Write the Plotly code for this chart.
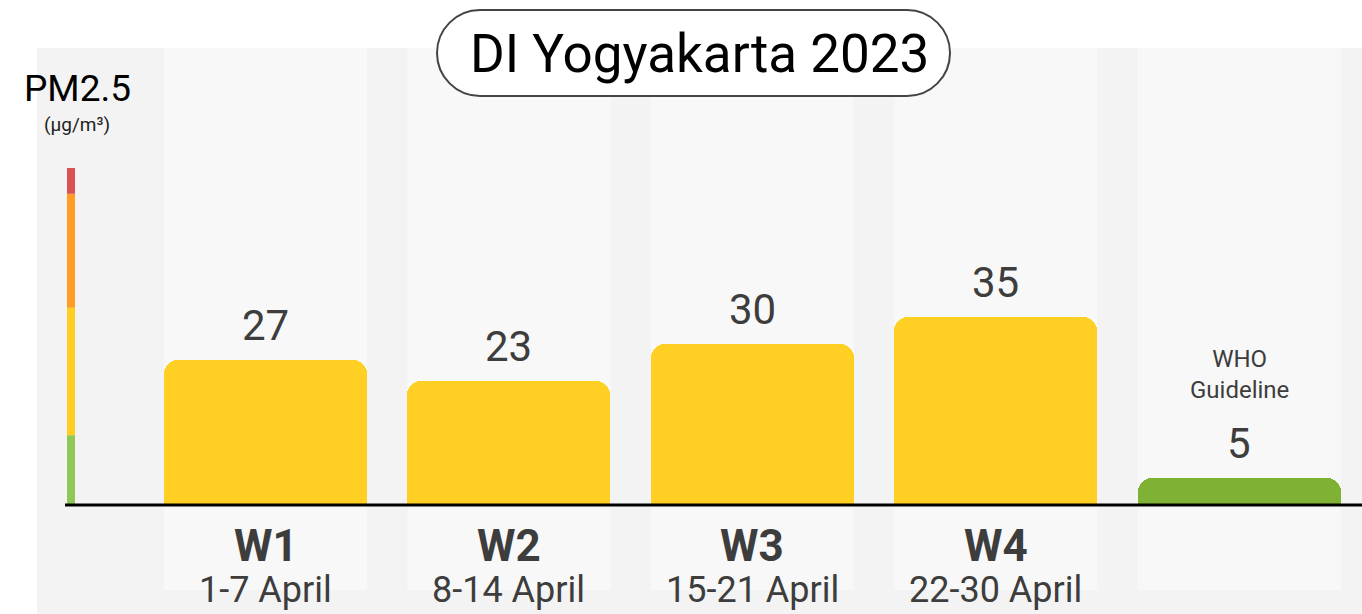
import plotly.graph_objects as go

# ---- data ----
weeks = ["W1", "W2", "W3", "W4"]
date_ranges = ["1-7 April", "8-14 April", "15-21 April", "22-30 April"]
pm25_values = [27, 23, 30, 35]
who_label = "WHO<br>Guideline"
who_value = 5
title_text = "DI Yogyakarta 2023"
# PM2.5 colour-scale band limits (µg/m³), bottom to top
scale_limits = [0, 13, 36.7, 57.9, 62.7]
scale_colors = ["#8FC855", "#FFCE21", "#FF9E22", "#D95152"]

# ---- layout geometry ----
W, H = 1362, 614
L, T = 37, 48
k = 5.375           # px per unit
base_px = 505
y_min = -(H - base_px) / k
y_max = (base_px - T) / k


def px2x(px):
    return (px - L) / (W - L)


def py2y(py):
    return (H - py) / (H - T)


cats = weeks + ["WHO"]
vals = pm25_values + [who_value]
colors = ["#FFCF23"] * len(weeks) + ["#7FB135"]

fig = go.Figure()
fig.add_trace(go.Bar(
    x=list(range(len(cats))), y=vals,
    marker=dict(color=colors, line=dict(width=0), cornerradius=14),
    width=0.834, hoverinfo="skip", showlegend=False,
))

shapes = []
# column bands
for i in range(len(cats)):
    shapes.append(dict(type="rect", xref="x", yref="y",
                       x0=i - 0.417, x1=i + 0.417,
                       y0=-(590 - base_px) / k, y1=y_max,
                       fillcolor="#f8f8f8", line=dict(width=0), layer="below"))
# colour scale bar
for j, c in enumerate(scale_colors):
    shapes.append(dict(type="rect", xref="paper", yref="y",
                       x0=px2x(67), x1=px2x(75),
                       y0=scale_limits[j], y1=scale_limits[j + 1],
                       fillcolor=c, line=dict(width=0), layer="below"))
# baseline axis
shapes.append(dict(type="line", xref="paper", yref="y",
                   x0=px2x(65), x1=1, y0=0, y1=0,
                   line=dict(color="black", width=3)))

# title pill
x0p, x1p, y0p, y1p = 437, 950, 10, 96
r = (y1p - y0p) / 2
kk = 0.5523


def P(px, py):
    return f"{px2x(px):.5f},{py2y(py):.5f}"


path = (f"M {P(x0p + r, y0p)} L {P(x1p - r, y0p)} "
        f"C {P(x1p - r + kk * r, y0p)} {P(x1p, y0p + r - kk * r)} {P(x1p, y0p + r)} "
        f"C {P(x1p, y0p + r + kk * r)} {P(x1p - r + kk * r, y1p)} {P(x1p - r, y1p)} "
        f"L {P(x0p + r, y1p)} "
        f"C {P(x0p + r - kk * r, y1p)} {P(x0p, y1p - r + kk * r)} {P(x0p, y1p - r)} "
        f"C {P(x0p, y0p + r - kk * r)} {P(x0p + r - kk * r, y0p)} {P(x0p + r, y0p)} Z")
shapes.append(dict(type="path", xref="paper", yref="paper", path=path,
                   fillcolor="white", line=dict(color="#444444", width=2)))

annotations = []
FONT = "Roboto"
TXT = "#3d3d3d"
# value labels
for i, v in enumerate(vals):
    annotations.append(dict(x=i, y=v, xref="x", yref="y", text=str(v),
                            showarrow=False, xanchor="center", yanchor="bottom", yshift=8,
                            font=dict(family=FONT, size=42, color=TXT)))
# WHO guideline label
annotations.append(dict(x=len(cats) - 1, y=py2y(374), xref="x", yref="paper",
                        text=who_label, showarrow=False, xanchor="center", yanchor="middle",
                        font=dict(family=FONT, size=24, color=TXT)))
# week labels
for i, (w, d) in enumerate(zip(weeks, date_ranges)):
    annotations.append(dict(x=i, y=py2y(546), xref="x", yref="paper",
                            text=f"<b>{w}</b>", showarrow=False, xanchor="center",
                            yanchor="middle",
                            font=dict(family=FONT, size=44, color=TXT)))
    annotations.append(dict(x=i, y=py2y(590), xref="x", yref="paper",
                            text=d, showarrow=False, xanchor="center", yanchor="middle",
                            font=dict(family=FONT, size=36, color=TXT)))
# y label
annotations.append(dict(x=px2x(77), y=py2y(89), xref="paper", yref="paper",
                        text="PM2.5", showarrow=False, xanchor="center", yanchor="middle",
                        font=dict(family=FONT, size=37, color="black")))
annotations.append(dict(x=px2x(77), y=py2y(125), xref="paper", yref="paper",
                        text="(µg/m³)", showarrow=False, xanchor="center", yanchor="middle",
                        font=dict(family=FONT, size=19, color="#222222")))
# title
annotations.append(dict(x=px2x(699), y=py2y(54), xref="paper", yref="paper",
                        text=title_text, showarrow=False, xanchor="center", yanchor="middle",
                        font=dict(family=FONT, size=53, color="black")))

fig.update_layout(
    width=W, height=H,
    margin=dict(l=L, r=0, t=T, b=0, pad=0),
    paper_bgcolor="white", plot_bgcolor="#f3f3f3",
    xaxis=dict(range=[-0.939, 4.505], visible=False, fixedrange=True),
    yaxis=dict(range=[y_min, y_max], visible=False, fixedrange=True),
    shapes=shapes, annotations=annotations,
    bargap=0, showlegend=False,
)

fig.write_html("out.html", config={"displayModeBar": False},
               post_script="document.body.style.margin='0';document.body.style.overflow='hidden';")
